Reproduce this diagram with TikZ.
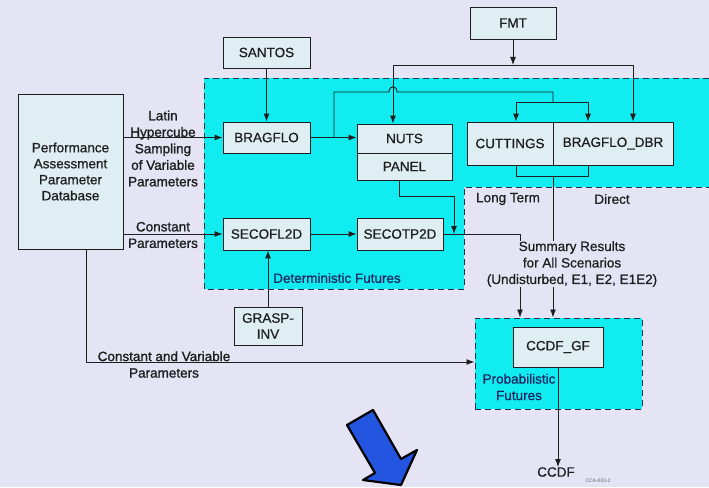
\documentclass[tikz,border=0pt]{standalone}
\usepackage{fontspec}
\setmainfont{Liberation Sans}
\newfontface\semib{Liberation Sans}[FakeBold=0.6]
\newfontface\semibb{Liberation Sans}[FakeBold=1.2]
\usetikzlibrary{arrows.meta}
\definecolor{bg}{RGB}{228,228,244}
\definecolor{cyanreg}{RGB}{16,236,240}
\definecolor{boxfill}{RGB}{222,238,242}
\definecolor{ink}{RGB}{30,30,30}
\definecolor{dashc}{RGB}{40,50,80}
\definecolor{navy}{RGB}{25,35,95}
\definecolor{arrowblue}{RGB}{35,85,225}
\begin{document}
\begin{tikzpicture}[x=1pt,y=-1pt,
  box/.style={draw=ink, fill=boxfill, line width=0.8pt, inner sep=0pt,
    font=\semib\fontsize{13.5}{16}\selectfont, text=ink, align=center},
  lbl/.style={font=\semib\fontsize{13.5}{16.5}\selectfont, text=ink, align=center, inner sep=0pt},
  hlbl/.style={lbl, font=\semibb\fontsize{13.5}{16.5}\selectfont},
  conn/.style={draw=ink, line width=0.9pt},
  arr/.style={conn, -{Latex[length=8pt,width=6pt]}},
  region/.style={draw=dashc, line width=1pt, dash pattern=on 6pt off 4pt}]
\useasboundingbox (0,0) rectangle (709,487);
\fill[bg] (0,0) rectangle (709,487);
% deterministic futures region
\fill[cyanreg] (204,78) -- (709,78) -- (709,187) -- (464,187) -- (464,289) -- (204,289) -- cycle;
\draw[region] (709,78) -- (204,78) -- (204,289) -- (464,289) -- (464,187) -- (709,187);
% probabilistic futures region
\node[region, fill=cyanreg, minimum width=167pt, minimum height=91pt, inner sep=0pt] (prob) at (558.5,363.5) {};

% boxes
\node[box, minimum width=105pt, minimum height=155pt] (db) at (70.5,171.5) {Performance\\Assessment\\Parameter\\Database};
\node[box, minimum width=87pt, minimum height=31pt] (santos) at (266.5,52.5) {SANTOS};
\node[box, minimum width=86pt, minimum height=32pt] (fmt) at (513,23) {FMT};
\node[box, minimum width=87pt, minimum height=31pt] (bragflo) at (266.5,137.5) {BRAGFLO};
\node[box, minimum width=87pt, minimum height=32pt] (secofl) at (266.5,234) {SECOFL2D};
\node[box, minimum width=95pt, minimum height=29pt] (nuts) at (404.5,138.5) {NUTS};
\node[box, minimum width=95pt, minimum height=27pt] (panel) at (404.5,166.5) {PANEL};
\node[box, minimum width=86pt, minimum height=43pt] (cuttings) at (510,143.5) {CUTTINGS};
\node[box, minimum width=120pt, minimum height=43pt] (dbr) at (613,143.5) {BRAGFLO\_DBR};
\node[box, minimum width=86pt, minimum height=32pt] (secotp) at (400,234) {SECOTP2D};
\node[box, minimum width=68pt, minimum height=38pt] (grasp) at (268,326) {GRASP-\\INV};
\node[box, minimum width=90pt, minimum height=40pt] (ccdfgf) at (558,347) {CCDF\_GF};

% labels
\node[hlbl] (lhs) at (163,148.5) {Latin\\Hypercube\\Sampling\\of Variable\\Parameters};
\node[hlbl] (cp) at (163,235) {Constant\\Parameters};
\node[hlbl] (cvp) at (164,364.5) {Constant and Variable\\Parameters};
\node[lbl, text=navy] (detf) at (337,278) {Deterministic Futures};
\node[lbl, text=navy] (probf) at (519,387) {Probabilistic\\Futures};
\node[lbl] (lt) at (508,199) {Long Term};
\node[lbl] (dir) at (612,199) {Direct};
\node[lbl] (summary) at (572,264) {Summary Results\\for All Scenarios\\(Undisturbed, E1, E2, E1E2)};
\node[lbl] (ccdf) at (556,472) {CCDF};
\node[font=\fontsize{5}{6}\selectfont, text=ink!70, inner sep=0pt] (cca) at (598,481) {CCA-003-2};

% coordinates
\coordinate (b1) at (334,92);
\coordinate (b2) at (553,92);
\coordinate (b3) at (553,102);
\coordinate (c1) at (516,102);
\coordinate (c2) at (588,102);
\coordinate (fmtj) at (513,65);
\coordinate (f1) at (393,65);
\coordinate (f2) at (633,65);
\coordinate (cb1) at (516,176);
\coordinate (cb2) at (588,176);
\coordinate (cbm) at (553,176);
\coordinate (p1) at (399,196);
\coordinate (p2) at (454,196);
\coordinate (sj) at (520,234);
\coordinate (dbx) at (86,362);

% connectors
\draw[arr] (db.east |- bragflo.west) -- (bragflo.west);
\draw[arr] (db.east |- secofl.west) -- (secofl.west);
\draw[arr] (santos.south) -- (bragflo.north);
\draw[arr] (bragflo.east) -- (bragflo.east -| nuts.west);
\draw[conn] (bragflo.east -| b1) -- (b1) -- (389,92) .. controls (389,85) and (397,85) .. (397,92) -- (b2) -- (b3);
\draw[conn] (c1) -- (c2);
\draw[arr] (c1) -- (c1 |- cuttings.north);
\draw[arr] (c2) -- (c2 |- dbr.north);
\draw[arr] (fmt.south) -- (fmtj);
\draw[conn] (f1) -- (f2);
\draw[arr] (f1) -- (f1 |- nuts.north);
\draw[arr] (f2) -- (f2 |- dbr.north);
\draw[conn] (cb1 |- cuttings.south) -- (cb1) -- (cb2) -- (cb2 |- dbr.south);
\draw[conn] (cbm) -- (summary.north -| cbm);
\draw[arr] (panel.south -| p1) -- (p1) -- (p2) -- (p2 |- secotp.east);
\draw[arr] (secofl.east) -- (secotp.west);
\draw[conn] (secotp.east) -- (sj) -- (summary.north -| sj);
\draw[arr] (summary.south -| sj) -- (prob.north -| sj);
\draw[arr] (summary.south -| cbm) -- (prob.north -| cbm);
\draw[arr] (grasp.north) -- (grasp.north |- secofl.south);
\draw[arr] (db.south -| dbx) -- (dbx) -- (dbx -| prob.west);
\draw[arr] (ccdfgf.south) -- (ccdfgf.south |- ccdf.north);

% big blue arrow
\filldraw[fill=arrowblue, draw=black, line width=2.2pt, line join=round]
  (347,425) -- (375,473) -- (363,480) -- (401,485) -- (417,450) -- (401,459) -- (373,410) -- cycle;
\end{tikzpicture}
\end{document}
